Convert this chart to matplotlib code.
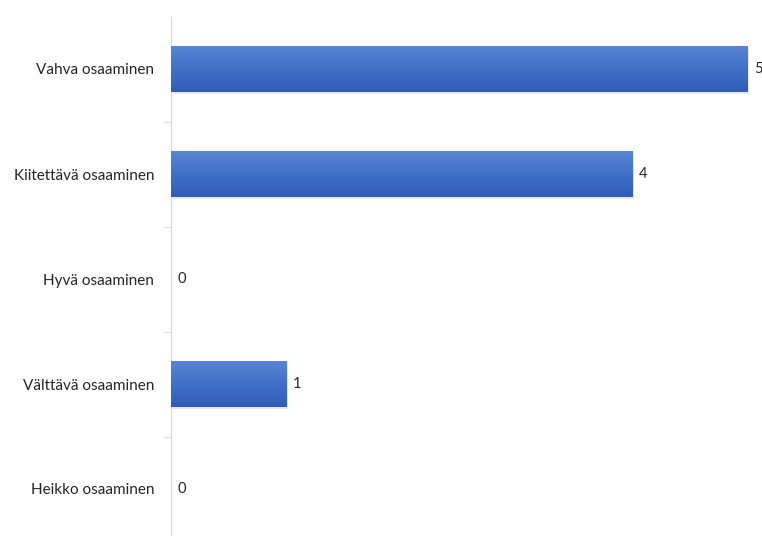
import matplotlib.pyplot as plt
import numpy as np

categories = ["Vahva osaaminen", "Kiitettävä osaaminen", "Hyvä osaaminen",
              "Välttävä osaaminen", "Heikko osaaminen"]
values = [5, 4, 0, 1, 0]

plt.rcParams['font.family'] = ['Lato', 'DejaVu Sans']

fig = plt.figure(figsize=(7.62, 5.36), dpi=100)
W, H = 762, 536
ax = fig.add_axes([171 / W, (536 - 541.5) / H, (762 - 171) / W, 525 / H])

y = np.arange(len(categories))
bars = ax.barh(y, values, height=0.44, color="#4472C4", zorder=2)
ax.set_ylim(len(categories) - 0.5, -0.5)
ax.set_xlim(0, 591 / 115.4)

# gradient fill on top of each bar
grad = np.linspace(0, 1, 100).reshape(-1, 1)
cmap = plt.matplotlib.colors.LinearSegmentedColormap.from_list(
    "bar", ["#5a87d4", "#4170c8", "#2f5cb8"])
for b in bars:
    if b.get_width() == 0:
        continue
    x0, y0 = b.get_x(), b.get_y()
    w, h = b.get_width(), b.get_height()
    # subtle shadow
    ax.add_patch(plt.Rectangle((x0 + 0.01, y0 + 0.02), w, h,
                               color="#d0d0d0", alpha=0.5, zorder=1, lw=0))
    im = ax.imshow(grad, extent=(x0, x0 + w, y0 + h, y0), aspect="auto",
                   cmap=cmap, zorder=3, origin="upper")
    im.set_clip_path(b)

for yi, v in zip(y, values):
    ax.text(v + 0.055, yi, str(v), va="center", ha="left", fontsize=10.5,
            color="#262626")

ax.set_yticks(y)
ax.set_yticklabels(categories, fontsize=11, color="#262626")
ax.set_yticks(np.arange(len(categories) - 1) + 0.5, minor=True)
ax.tick_params(axis="y", which="major", length=0, pad=12)
ax.tick_params(axis="y", which="minor", length=6, color="#d9d9d9")
ax.set_xticks([])
for s in ["top", "right", "bottom"]:
    ax.spines[s].set_visible(False)
ax.spines["left"].set_color("#d9d9d9")

fig.savefig("out.png", dpi=100)
